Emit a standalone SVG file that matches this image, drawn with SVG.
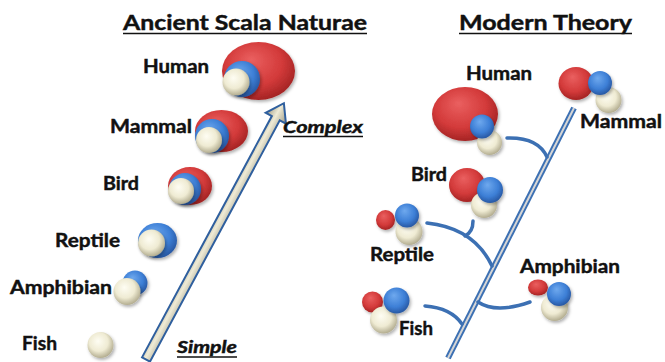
<svg xmlns="http://www.w3.org/2000/svg" width="665" height="362" viewBox="0 0 665 362">
<style>
.t{font-family:Lato,"Liberation Sans",sans-serif;font-weight:bold;fill:#111;stroke:#111;stroke-width:0.45;}
.title{font-size:21px;}
.lab{font-size:19px;}
.it{font-size:17px;font-style:italic;}
.ul{stroke:#111;stroke-width:1.7;}
.br{fill:none;stroke:#3c70b3;stroke-width:3.5;stroke-linecap:round;}
.r{fill:url(#gr);}
.b{fill:url(#gb);}
.c{fill:url(#gc);}
.sh{filter:url(#ds);}
</style>
<defs>
<radialGradient id="gr" cx="45%" cy="40%" r="60%" fx="40%" fy="30%">
<stop offset="0" stop-color="#ea6060"/><stop offset="0.65" stop-color="#d33a3a"/><stop offset="1" stop-color="#a52424"/>
</radialGradient>
<radialGradient id="gb" cx="45%" cy="40%" r="60%" fx="40%" fy="30%">
<stop offset="0" stop-color="#6fa9ee"/><stop offset="0.65" stop-color="#3d7fd6"/><stop offset="1" stop-color="#2858a3"/>
</radialGradient>
<radialGradient id="gc" cx="45%" cy="40%" r="60%" fx="40%" fy="35%">
<stop offset="0" stop-color="#fefdf3"/><stop offset="0.6" stop-color="#efebd3"/><stop offset="1" stop-color="#b3ad90"/>
</radialGradient>
<linearGradient id="ga" x1="0" y1="0" x2="0" y2="1">
<stop offset="0" stop-color="#a09d88"/><stop offset="0.45" stop-color="#efebd6"/><stop offset="1" stop-color="#9d9a85"/>
</linearGradient>
<filter id="ds" x="-30%" y="-30%" width="160%" height="160%">
<feDropShadow dx="1.5" dy="2" stdDeviation="1.5" flood-color="#000" flood-opacity="0.3"/>
</filter>
</defs>
<rect width="665" height="362" fill="#fff"/>

<g id="titles">
<text class="t title" x="123" y="30" textLength="244" lengthAdjust="spacingAndGlyphs">Ancient Scala Naturae</text>
<line class="ul" x1="123" y1="33.5" x2="367" y2="33.5"/>
<text class="t title" x="459" y="30" textLength="173" lengthAdjust="spacingAndGlyphs">Modern Theory</text>
<line class="ul" x1="459" y1="33.5" x2="632" y2="33.5"/>
</g>

<g id="scale-arrow">
<g transform="translate(146,359.5) rotate(-61.72)">
<path d="M0,-4.5 L274,-4.5 L274,-11.5 L291,0 L274,11.5 L274,4.5 L0,4.5 Z" fill="url(#ga)" stroke="#2f5f9e" stroke-width="2" stroke-linejoin="miter"/>
</g>
<text class="t it" x="283" y="133" textLength="80" lengthAdjust="spacingAndGlyphs">Complex</text>
<line class="ul" x1="283" y1="136.5" x2="363" y2="136.5"/>
<text class="t it" x="177" y="353" textLength="60" lengthAdjust="spacingAndGlyphs">Simple</text>
<line class="ul" x1="177" y1="357" x2="237" y2="357"/>
</g>

<g id="left-human">
<text class="t lab" x="143" y="73" textLength="66" lengthAdjust="spacingAndGlyphs">Human</text>
<g class="sh"><ellipse class="r" cx="258.5" cy="71" rx="36.5" ry="29"/></g>
<g class="sh"><circle class="b" cx="242" cy="79" r="18"/></g>
<g class="sh"><circle class="c" cx="236" cy="82" r="13.5"/></g>
</g>
<g id="left-mammal">
<text class="t lab" x="110" y="133" textLength="82" lengthAdjust="spacingAndGlyphs">Mammal</text>
<g class="sh"><ellipse class="r" cx="221.5" cy="131" rx="26.5" ry="21"/></g>
<g class="sh"><circle class="b" cx="212" cy="136" r="17"/></g>
<g class="sh"><circle class="c" cx="209" cy="140" r="13"/></g>
</g>
<g id="left-bird">
<text class="t lab" x="103" y="190" textLength="36" lengthAdjust="spacingAndGlyphs">Bird</text>
<g class="sh"><ellipse class="r" cx="190" cy="186" rx="22" ry="19"/></g>
<g class="sh"><circle class="b" cx="185" cy="189" r="16"/></g>
<g class="sh"><circle class="c" cx="181" cy="191" r="13"/></g>
</g>
<g id="left-reptile">
<text class="t lab" x="55" y="247" textLength="65" lengthAdjust="spacingAndGlyphs">Reptile</text>
<g class="sh"><ellipse class="b" cx="157.5" cy="240.5" rx="19.5" ry="17.5"/></g>
<g class="sh"><circle class="c" cx="151.5" cy="243" r="13.5"/></g>
</g>
<g id="left-amphibian">
<text class="t lab" x="10" y="294" textLength="102" lengthAdjust="spacingAndGlyphs">Amphibian</text>
<g class="sh"><circle class="b" cx="135" cy="283" r="12.5"/></g>
<g class="sh"><circle class="c" cx="127" cy="291.5" r="13.5"/></g>
</g>
<g id="left-fish">
<text class="t lab" x="22" y="350" textLength="35" lengthAdjust="spacingAndGlyphs">Fish</text>
<g class="sh"><circle class="c" cx="100.5" cy="345" r="13"/></g>
</g>

<g id="connectors">
<line x1="574" y1="108" x2="448" y2="358" stroke="#3c70b3" stroke-width="6" stroke-linecap="butt"/>
<line x1="574" y1="108" x2="448" y2="358" stroke="#d6d6d6" stroke-width="2" stroke-linecap="butt"/>
<path class="br" d="M507,138 Q538,137 547,157"/>
<path class="br" d="M427,223 Q474,228 492,266"/>
<path class="br" d="M473,221 Q473,232 465,236"/>
<path class="br" d="M478,302 Q496,314 530,302"/>
<path class="br" d="M425,306 Q451,308 462,324"/>
</g>

<g id="right-human">
<text class="t lab" x="466" y="80" textLength="66" lengthAdjust="spacingAndGlyphs">Human</text>
<g class="sh"><ellipse class="r" cx="465" cy="114" rx="33" ry="27"/></g>
<g class="sh"><circle class="c" cx="489.5" cy="142.5" r="12.5"/></g>
<g class="sh"><circle class="b" cx="482" cy="126.5" r="12"/></g>
</g>
<g id="right-mammal">
<text class="t lab" x="580" y="128" textLength="82" lengthAdjust="spacingAndGlyphs">Mammal</text>
<g class="sh"><ellipse class="r" cx="576" cy="83.5" rx="17.5" ry="16.5"/></g>
<g class="sh"><circle class="c" cx="608.5" cy="100" r="13"/></g>
<g class="sh"><circle class="b" cx="600" cy="83" r="12"/></g>
</g>
<g id="right-bird">
<text class="t lab" x="411" y="181" textLength="36" lengthAdjust="spacingAndGlyphs">Bird</text>
<g class="sh"><ellipse class="r" cx="467" cy="185" rx="18" ry="17"/></g>
<g class="sh"><circle class="c" cx="484" cy="205" r="13"/></g>
<g class="sh"><circle class="b" cx="490" cy="190" r="13"/></g>
</g>
<g id="right-reptile">
<text class="t lab" x="370" y="261" textLength="64" lengthAdjust="spacingAndGlyphs">Reptile</text>
<g class="sh"><ellipse class="r" cx="385.5" cy="220" rx="9.5" ry="10"/></g>
<g class="sh"><circle class="c" cx="409" cy="231.5" r="13.5"/></g>
<g class="sh"><circle class="b" cx="407" cy="215.5" r="12"/></g>
</g>
<g id="right-amphibian">
<text class="t lab" x="520" y="273" textLength="100" lengthAdjust="spacingAndGlyphs">Amphibian</text>
<g class="sh"><ellipse class="r" cx="538" cy="287.5" rx="10" ry="8"/></g>
<g class="sh"><circle class="c" cx="554.5" cy="307.5" r="13.5"/></g>
<g class="sh"><circle class="b" cx="559" cy="294" r="12"/></g>
</g>
<g id="right-fish">
<g class="sh"><circle class="r" cx="372.5" cy="302" r="10.5"/></g>
<g class="sh"><circle class="c" cx="383.5" cy="320" r="13.5"/></g>
<g class="sh"><circle class="b" cx="396.5" cy="300.5" r="13"/></g>
<text class="t lab" x="399" y="335" textLength="34" lengthAdjust="spacingAndGlyphs">Fish</text>
</g>
</svg>
